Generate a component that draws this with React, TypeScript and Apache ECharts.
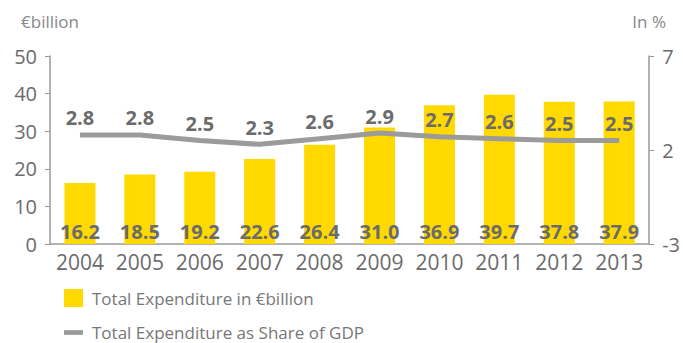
import React, { useEffect, useRef } from "react";
import * as echarts from "echarts";

const years = ["2004", "2005", "2006", "2007", "2008", "2009", "2010", "2011", "2012", "2013"];
const expenditure = [16.2, 18.5, 19.2, 22.6, 26.4, 31.0, 36.9, 39.7, 37.8, 37.9];
const shareGdp = [2.8, 2.8, 2.5, 2.3, 2.6, 2.9, 2.7, 2.6, 2.5, 2.5];
const leftTicks = { min: 0, max: 50, interval: 10 };
const rightTicks = { min: -3, max: 7, interval: 5 };
const barName = "Total Expenditure in €billion";
const lineName = "Total Expenditure as Share of GDP";

const FONT = "'Open Sans', 'Noto Sans', sans-serif";
const TEXT = "#6b6b6b";
const AXIS = "#9a9a9a";
const YELLOW = "#FFD900";
const GREY = "#9b9b9b";

export default function App() {
  const ref = useRef<HTMLDivElement>(null);
  useEffect(() => {
    if (!ref.current) return;
    const chart = echarts.init(ref.current, undefined, { renderer: "svg" });
    const legendBase = {
      orient: "horizontal",
      left: 64,
      padding: 0,
      itemWidth: 19,
      itemHeight: 18,
      itemGap: 8,
      textStyle: { color: "#777", fontSize: 17, fontFamily: FONT, padding: [0, 0, 0, 4] },
    };
    chart.setOption({
      animation: false,
      textStyle: { fontFamily: FONT },
      grid: { left: 50, right: 33, top: 56, bottom: 99, containLabel: false },
      legend: [
        { ...legendBase, top: 289, data: [{ name: barName, icon: "rect" }] },
        {
          ...legendBase,
          top: 324,
          data: [{ name: lineName, icon: "path://M0,0 H20 V5 H0 Z", itemStyle: { color: GREY } }],
        },
      ],
      xAxis: {
        type: "category",
        data: years,
        axisLine: { lineStyle: { color: AXIS, width: 1.5 } },
        axisTick: { show: false },
        axisLabel: { color: TEXT, fontSize: 21, margin: 7, fontFamily: FONT, interval: 0 },
      },
      yAxis: [
        {
          type: "value",
          ...leftTicks,
          name: "€billion",
          nameGap: 26,
          nameTextStyle: { color: "#888", fontSize: 17, fontFamily: FONT },
          axisLine: { show: true, lineStyle: { color: AXIS, width: 1.5 } },
          axisTick: { show: true, length: 5, lineStyle: { color: AXIS } },
          splitLine: { show: false },
          axisLabel: { color: TEXT, fontSize: 20, margin: 13, fontFamily: FONT },
        },
        {
          type: "value",
          ...rightTicks,
          position: "right",
          name: "In %",
          nameGap: 26,
          nameTextStyle: { color: "#888", fontSize: 17, fontFamily: FONT },
          axisLine: { show: true, lineStyle: { color: AXIS, width: 1.5 } },
          axisTick: { show: true, length: 5, lineStyle: { color: AXIS } },
          splitLine: { show: false },
          axisLabel: { color: TEXT, fontSize: 20, margin: 13, fontFamily: FONT },
        },
      ],
      series: [
        {
          name: barName,
          type: "bar",
          data: expenditure,
          barWidth: 31,
          itemStyle: { color: YELLOW },
          label: {
            show: true,
            position: "insideBottom",
            distance: 3,
            color: TEXT,
            fontSize: 20,
            fontWeight: "bold",
            fontFamily: FONT,
            formatter: (p: any) => Number(p.value).toFixed(1),
          },
          z: 2,
        },
        {
          name: lineName,
          type: "line",
          yAxisIndex: 1,
          data: shareGdp,
          symbol: "circle",
          symbolSize: 0,
          showSymbol: true,
          itemStyle: { color: GREY },
          lineStyle: { color: GREY, width: 5 },
          label: {
            show: true,
            position: "top",
            distance: 7,
            color: TEXT,
            fontSize: 20,
            fontWeight: "bold",
            fontFamily: FONT,
            formatter: (p: any) => Number(p.value).toFixed(1),
          },
          z: 3,
        },
      ],
    });
    return () => chart.dispose();
  }, []);
  return <div ref={ref} style={{ width: 683, height: 343, position: "absolute", left: 0, top: 0 }} />;
}
